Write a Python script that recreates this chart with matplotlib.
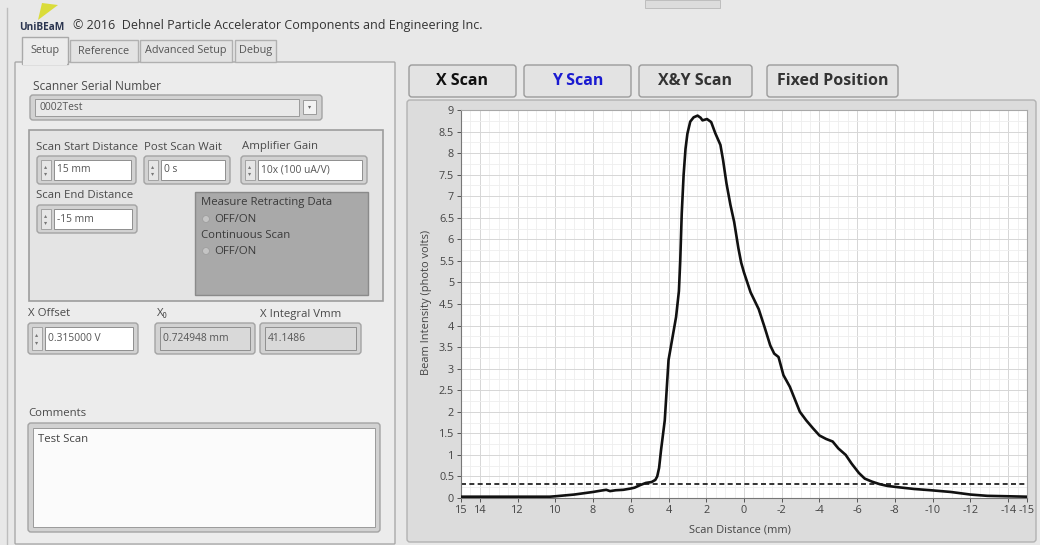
import matplotlib
matplotlib.use("Agg")
import matplotlib.pyplot as plt
from matplotlib.patches import FancyBboxPatch, Rectangle, Polygon, Circle
from matplotlib.ticker import MultipleLocator
import numpy as np

plt.rcParams['font.family'] = ['Open Sans', 'DejaVu Sans']

# beam profile (scan distance in mm, intensity in photo volts)
scan_mm = [15, 14, 13, 12, 11, 10.3, 10, 9.5, 9, 8.5,
           8, 7.6, 7.3, 7.1, 6.8, 6.4, 6, 5.8, 5.5, 5.2,
           4.9, 4.7, 4.6, 4.5, 4.4, 4.3, 4.2, 4.1, 4.0, 3.8,
           3.6, 3.45, 3.38, 3.3, 3.2, 3.1, 3.0, 2.85, 2.67, 2.46,
           2.3, 2.2, 1.96, 1.74, 1.52, 1.25, 1.11, 0.93, 0.72, 0.52,
           0.3, 0.15, 0, -0.35, -0.78, -1.1, -1.39, -1.6, -1.83, -2.09,
           -2.43, -2.96, -3.3, -3.65, -4.0, -4.35, -4.7, -5.0, -5.39, -5.7,
           -6.09, -6.4, -6.78, -7.2, -7.6, -8.17, -9.0, -9.9, -10.96, -12.0,
           -12.9, -14.0, -15.0]
intensity = [0.03, 0.03, 0.03, 0.03, 0.03, 0.03, 0.04, 0.06, 0.08, 0.11,
             0.14, 0.17, 0.19, 0.16, 0.18, 0.19, 0.22, 0.24, 0.30, 0.35,
             0.37, 0.42, 0.5, 0.7, 1.1, 1.45, 1.8, 2.5, 3.2, 3.7,
             4.2, 4.8, 5.5, 6.6, 7.5, 8.1, 8.45, 8.73, 8.83, 8.87,
             8.82, 8.76, 8.79, 8.72, 8.46, 8.19, 7.84, 7.3, 6.8, 6.4,
             5.8, 5.46, 5.23, 4.77, 4.38, 3.95, 3.54, 3.35, 3.27, 2.85,
             2.58, 2.0, 1.8, 1.62, 1.45, 1.37, 1.31, 1.15, 1.0, 0.8,
             0.58, 0.45, 0.38, 0.32, 0.28, 0.25, 0.21, 0.18, 0.14, 0.08,
             0.05, 0.04, 0.03]
offset_v = 0.315

x_ticks = [15, 14, 12, 10, 8, 6, 4, 2, 0, -2, -4, -6, -8, -10, -12, -14, -15]
y_ticks = [0, 0.5, 1, 1.5, 2, 2.5, 3, 3.5, 4, 4.5, 5, 5.5, 6, 6.5, 7, 7.5, 8, 8.5, 9]

tabs = ["Setup", "Reference", "Advanced Setup", "Debug"]
buttons = ["X Scan", "Y Scan", "X&Y Scan", "Fixed Position"]

W, H = 1040, 545
fig = plt.figure(figsize=(W / 100, H / 100), dpi=100)
fig.patch.set_facecolor('#e8e8e8')

# background axes in pixel coordinates for the panel widgets
bg = fig.add_axes([0, 0, 1, 1])
bg.set_xlim(0, W)
bg.set_ylim(H, 0)
bg.axis('off')

LBL = 8.2   # label size
VAL = 7.4   # value size


def box(x0, y0, x1, y1, fc, ec, lw=0.8, r=3, z=1):
    p = FancyBboxPatch((x0, y0), x1 - x0, y1 - y0,
                       boxstyle="round,pad=0,rounding_size=%s" % r,
                       fc=fc, ec=ec, lw=lw, zorder=z)
    bg.add_patch(p)


def txt(x, y, s, size=LBL, color='#4a4a4a', **kw):
    bg.text(x, y, s, fontsize=size, color=color, va='center', ha=kw.pop('ha', 'left'), **kw)


def numeric(x0, y0, x1, y1, value, white=True, spin=True):
    box(x0, y0, x1, y1, '#d2d2d2', '#a3a3a3', lw=1, r=3, z=2)
    fx = x0 + (17 if spin else 5)
    bg.add_patch(Rectangle((fx, y0 + 4), x1 - fx - 5, y1 - y0 - 8,
                           fc='white' if white else '#d9d9d9', ec='#8f8f8f', lw=0.7, zorder=3))
    if spin:
        bg.add_patch(Rectangle((x0 + 4, y0 + 4), 10, y1 - y0 - 8, fc='#e6e6e6', ec='#9a9a9a', lw=0.6, zorder=3))
        txt(x0 + 9, y0 + (y1 - y0) * 0.38, "\u25b4", size=4.5, color='#777777', ha='center', zorder=4)
        txt(x0 + 9, y0 + (y1 - y0) * 0.64, "\u25be", size=4.5, color='#777777', ha='center', zorder=4)
    txt(fx + 3, (y0 + y1) / 2, value, size=VAL, color='#555555', zorder=4)


# window edge and title line
bg.plot([7, 7], [8, H], color='#bdbdbd', lw=1)
bg.add_patch(Polygon([(38, 20), (42, 3), (58, 5)], closed=True, fc='#dadc3a', ec='none'))
bg.add_patch(Rectangle((645, 0), 75, 8, fc='#dcdcdc', ec='#b8b8b8', lw=0.6))
txt(19, 27, "UniBEaM", size=7.3, color='#2b3550', weight='bold')
txt(73, 26, "\u00a9 2016  Dehnel Particle Accelerator Components and Engineering Inc.", size=9.0, color='#333333')

# tab control
box(15, 62, 395, 544, '#ececec', '#a9a9a9', lw=1, r=1)
tab_x = [(22, 68), (70, 138), (140, 232), (235, 276)]
for (a, b), name in zip(tab_x, tabs):
    if name == "Setup":
        bg.add_patch(Rectangle((a, 37), b - a, 27, fc='#ececec', ec='#a9a9a9', lw=1, zorder=2))
        bg.add_patch(Rectangle((a + 1, 60), b - a - 2, 5, fc='#ececec', ec='none', zorder=3))
    else:
        bg.add_patch(Rectangle((a, 40), b - a, 22, fc='#e3e3e3', ec='#b0b0b0', lw=1, zorder=1))
    txt((a + b) / 2, 51, name, size=7.8, color='#555555', ha='center', zorder=4)

txt(33, 87, "Scanner Serial Number", size=8.6)
box(30, 95, 322, 120, '#d2d2d2', '#a3a3a3', lw=1, r=3, z=2)
bg.add_patch(Rectangle((35, 99), 264, 17, fc='#e9e9e9', ec='#9a9a9a', lw=0.7, zorder=3))
bg.add_patch(Rectangle((303, 100), 13, 14, fc='#f2f2f2', ec='#9a9a9a', lw=0.7, zorder=3))
txt(309.5, 107, "\u25be", size=4.5, color='#666666', ha='center', zorder=4)
txt(40, 107.5, "0002Test", size=VAL, color='#555555', zorder=4)

# group of scan settings
bg.add_patch(Rectangle((29, 130), 354, 171, fc='#e4e4e4', ec='#9d9d9d', lw=1.2, zorder=1))
txt(36, 147, "Scan Start Distance", size=LBL)
txt(144, 147, "Post Scan Wait", size=LBL)
txt(242, 147, "Amplifier Gain", size=LBL)
numeric(37, 156, 136, 184, "15 mm")
numeric(144, 156, 230, 184, "0 s")
numeric(241, 156, 367, 184, "10x (100 uA/V)")
txt(36, 196, "Scan End Distance", size=LBL)
numeric(37, 205, 137, 233, "-15 mm")

bg.add_patch(Rectangle((195, 192), 173, 103, fc='#a9a9a9', ec='#8a8a8a', lw=1, zorder=2))
txt(201, 203, "Measure Retracting Data", size=LBL, color='#3a3a3a', zorder=3)
bg.add_patch(Circle((206, 219), 3.4, fc='#c4c4c4', ec='#9c9c9c', lw=0.5, zorder=3))
txt(214, 219, "OFF/ON", size=LBL, color='#3a3a3a', zorder=3)
txt(201, 235, "Continuous Scan", size=LBL, color='#3a3a3a', zorder=3)
bg.add_patch(Circle((206, 251), 3.4, fc='#c4c4c4', ec='#9c9c9c', lw=0.5, zorder=3))
txt(214, 251, "OFF/ON", size=LBL, color='#3a3a3a', zorder=3)

txt(28, 314, "X Offset", size=LBL)
txt(157, 314, "X\u2080", size=LBL)
txt(260, 314, "X Integral Vmm", size=LBL)
numeric(28, 323, 138, 354, "0.315000 V")
numeric(155, 323, 255, 354, "0.724948 mm", white=False, spin=False)
numeric(260, 323, 361, 354, "41.1486", white=False, spin=False)

txt(28, 413, "Comments", size=LBL)
box(28, 423, 380, 532, '#d2d2d2', '#a3a3a3', lw=1, r=3, z=2)
bg.add_patch(Rectangle((33, 428), 342, 99, fc='#fbfbfb', ec='#9a9a9a', lw=0.7, zorder=3))
txt(38, 440, "Test Scan", size=8.2, color='#444444', zorder=4)

# graph panel and scan buttons
box(407, 100, 1036, 542, '#dcdcdc', '#b2b2b2', lw=1, r=3, z=1)
btn_x = [(409, 516), (524, 631), (639, 752), (767, 898)]
btn_col = ['#111111', '#1a1ad0', '#333333', '#333333']
for (a, b), name, c in zip(btn_x, buttons, btn_col):
    box(a, 65, b, 97, '#e3e3e3', '#9b9b9b', lw=1, r=3, z=2)
    txt((a + b) / 2, 81, name, size=11.5, color=c, ha='center', weight='bold', zorder=3)

# plot area
ax = fig.add_axes([461 / W, (H - 498) / H, 566 / W, 388 / H])
ax.set_facecolor('white')
ax.plot(scan_mm, intensity, color='#111111', lw=1.9, solid_joinstyle='round', zorder=3)
ax.axhline(offset_v, color='#111111', lw=1.2, ls=(0, (3, 2)), zorder=2)
ax.set_xlim(15, -15)
ax.set_ylim(0, 9)
ax.set_xticks(x_ticks)
ax.set_xticklabels([str(v) for v in x_ticks])
ax.set_yticks(y_ticks)
ax.set_yticklabels([('%g' % v) for v in y_ticks])
ax.xaxis.set_minor_locator(MultipleLocator(0.5))
ax.yaxis.set_minor_locator(MultipleLocator(0.25))
ax.grid(which='major', color='#d6d6d6', lw=0.7)
ax.grid(which='minor', color='#eeeeee', lw=0.6)
ax.set_axisbelow(True)
ax.tick_params(which='major', direction='out', length=3, width=0.7, color='#555555',
               labelsize=7.8, labelcolor='#444444', pad=2)
ax.tick_params(which='minor', length=0)
for s in ax.spines.values():
    s.set_color('#a8a8a8')
    s.set_linewidth(0.8)
ax.spines['left'].set_color('#777777')
ax.spines['bottom'].set_color('#777777')

txt(427, 302, "Beam Intensity (photo volts)", size=7.9, color='#444444', rotation=90, ha='center')
txt(740, 530, "Scan Distance (mm)", size=7.9, color='#444444', ha='center')

fig.savefig("out.png", dpi=100, facecolor=fig.get_facecolor())
